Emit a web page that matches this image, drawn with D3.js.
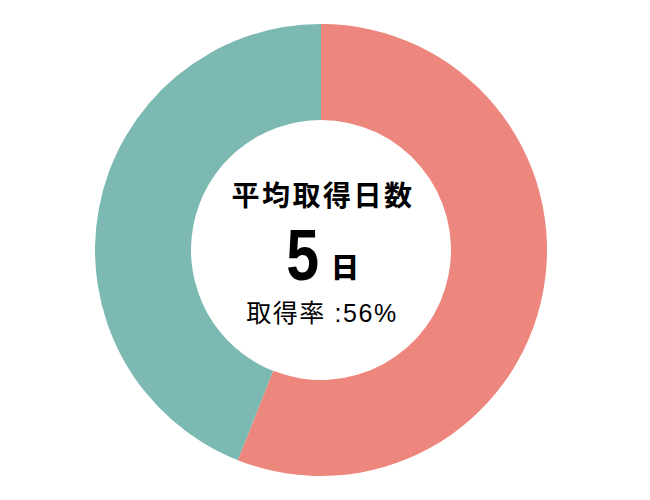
<!DOCTYPE html>
<html>
<head>
<meta charset="utf-8">
<script src="https://cdn.jsdelivr.net/npm/d3@7"></script>
<style>
	body { margin: 0; background: #fff; }
</style>
</head>
<body>
<div class="donut_chart"></div>
<script>
	// 取得率ドーナツ
	const labels = ['取得', '未取得'];
	const values = [56, 44];
	const colors = ['#ED867C', '#7CB9B3'];
	const title = '平均取得日数';
	const avgDays = 5;
	const rate = 56;

	const width = 650;
	const height = 500;
	const cx = 321;
	const cy = 250;
	const outerR = 226;
	const innerR = 130;
	const jpFont = '"Noto Sans CJK JP", "Noto Sans", sans-serif';
	const latinFont = '"Liberation Sans", Arial, sans-serif';

	const data = labels.map((l, i) => ({ label: l, value: values[i] }));

	const svg = d3.select('.donut_chart').append('svg').attr('width', width).attr('height', height);

	const pie = d3.pie().sort(null).value(d => d.value);
	const arc = d3.arc().innerRadius(innerR).outerRadius(outerR);

	const g = svg.append('g').attr('transform', `translate(${cx},${cy})`);

	g.selectAll('path')
		.data(pie(data))
		.enter()
		.append('path')
		.attr('d', arc)
		.attr('fill', (d, i) => colors[i]);

	// 中央のテキスト
	g.append('text')
		.attr('x', 2)
		.attr('y', -44)
		.attr('text-anchor', 'middle')
		.style('font-family', jpFont)
		.style('font-weight', 700)
		.style('font-size', '28px')
		.style('letter-spacing', '2.5px')
		.style('fill', '#000')
		.text(title);

	// 数字は縦長に
	g.append('g')
		.attr('transform', 'translate(-2,30) scale(0.82,1)')
		.append('text')
		.attr('text-anchor', 'end')
		.style('font-family', latinFont)
		.style('font-weight', 700)
		.style('font-size', '72px')
		.style('fill', '#000')
		.text(avgDays);

	g.append('text')
		.attr('x', 10)
		.attr('y', 28)
		.style('font-family', jpFont)
		.style('font-weight', 900)
		.style('font-size', '28px')
		.style('fill', '#000')
		.text('日');

	g.append('text')
		.attr('x', 1)
		.attr('y', 72)
		.attr('text-anchor', 'middle')
		.style('font-family', `${latinFont.split(',')[0]}, ${jpFont}`)
		.style('font-weight', 400)
		.style('font-size', '25px')
		.style('letter-spacing', '1.6px')
		.style('fill', '#000')
		.text(`取得率 :${rate}%`);
</script>
</body>
</html>
